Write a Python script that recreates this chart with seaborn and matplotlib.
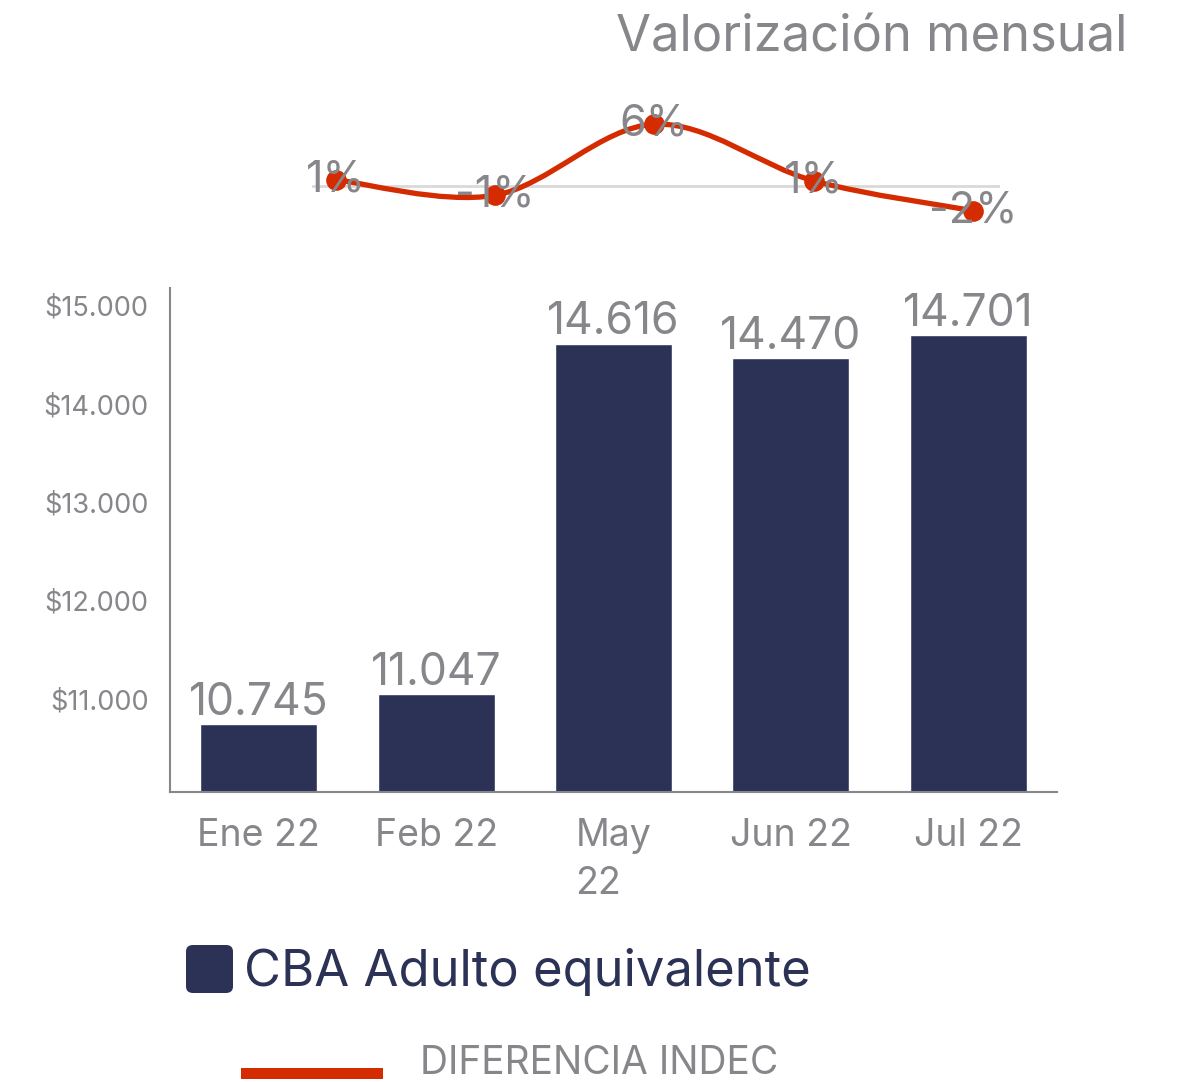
import numpy as np
import matplotlib
matplotlib.use("Agg")
import matplotlib.pyplot as plt
from matplotlib.path import Path
from matplotlib.patches import PathPatch, FancyBboxPatch, Rectangle
import pandas as pd
import seaborn as sns

# data
months = ["Ene 22", "Feb 22", "May\n22", "Jun 22", "Jul 22"]
cba_values = [10745, 11047, 14616, 14470, 14701]
cba_labels = ["10.745", "11.047", "14.616", "14.470", "14.701"]
var_values = [0.6, -0.9, 6.0, 0.5, -2.4]
var_labels = ["1%", "-1%", "6%", "1%", "-2%"]

y_ticks = [11000, 12000, 13000, 14000, 15000]

NAVY = "#2B3256"
RED = "#D52B00"
GRAY = "#86868B"

sns.set_style("white")
plt.rcParams['font.family'] = ['Inter', 'DejaVu Sans']

W, H = 1177, 1082
fig = plt.figure(figsize=(W / 100, H / 100), dpi=100)


def fig_rect(x0, y0, x1, y1):
    """pixel box (top-left origin) -> figure fraction rect"""
    return [x0 / W, 1 - y1 / H, (x1 - x0) / W, (y1 - y0) / H]


# bar chart
ax = fig.add_axes(fig_rect(170, 288, 1057, 792))
df = pd.DataFrame({"mes": months, "valor": cba_values})
sns.barplot(data=df, x="mes", y="valor", color=NAVY, width=0.66,
            saturation=1, ax=ax)
ax.set_xlim(-0.5, 4.5)
ax.set_ylim(10054, 15183)
ax.set_yticks(y_ticks)
ax.set_yticklabels(["$" + f"{v:,}".replace(",", ".") for v in y_ticks])
ax.set_xlabel("")
ax.set_ylabel("")
ax.tick_params(axis="y", length=0, labelsize=19.5, labelcolor=GRAY, pad=15.5)
ax.tick_params(axis="x", length=0, labelsize=27, labelcolor=GRAY, pad=19)
for lbl in ax.get_xticklabels():
    lbl.set_multialignment("left")
    lbl.set_linespacing(1.42)
for side in ["top", "right"]:
    ax.spines[side].set_visible(False)
for side in ["left", "bottom"]:
    ax.spines[side].set_color(GRAY)
    ax.spines[side].set_linewidth(1.5)
for i, (v, t) in enumerate(zip(cba_values, cba_labels)):
    ax.text(i, v + 5, t, ha="center", va="bottom", fontsize=32, color=GRAY)

# monthly variation line
ax2 = fig.add_axes(fig_rect(312, 108.75, 1000, 222))
ax2.set_xlim(-0.15, 4.17)
ax2.set_ylim(-3.5, 7.5)
ax2.axhline(0, color="#D9D9D9", lw=2, zorder=1)

# smoothed path through the points (catmull-rom as cubic bezier)
pts = np.column_stack([np.arange(len(var_values)), var_values])
verts = [pts[0]]
codes = [Path.MOVETO]
for i in range(len(pts) - 1):
    p0 = pts[max(i - 1, 0)]
    p1 = pts[i]
    p2 = pts[i + 1]
    p3 = pts[min(i + 2, len(pts) - 1)]
    verts += [p1 + (p2 - p0) / 6, p2 - (p3 - p1) / 6, p2]
    codes += [Path.CURVE4] * 3
ax2.add_patch(PathPatch(Path(verts, codes), fill=False, edgecolor=RED,
                        lw=3.8, capstyle="round", zorder=2))
sns.scatterplot(x=np.arange(len(var_values)), y=var_values, color=RED,
                s=190, edgecolor=RED, zorder=3, ax=ax2, legend=False)
for i, (v, t) in enumerate(zip(var_values, var_labels)):
    ax2.text(i, v, t, ha="center", va="center", fontsize=31, color=GRAY,
             zorder=4)
ax2.axis("off")

# title
fig.text(1127 / W, 1 - 38 / H, "Valorización mensual", ha="right",
         va="center", fontsize=36.5, color=GRAY)

# legend drawn by hand
fig.patches.append(FancyBboxPatch((186 / W, 1 - 993 / H), 47 / W, 48 / H,
                                  boxstyle="round,pad=0,rounding_size=0.006",
                                  transform=fig.transFigure, facecolor=NAVY,
                                  edgecolor="none"))
fig.text(244 / W, 1 - 972 / H, "CBA Adulto equivalente", ha="left",
         va="center", fontsize=36.5, color=NAVY)
fig.patches.append(Rectangle((241 / W, 1 - 1079 / H), 142 / W, 11 / H,
                             transform=fig.transFigure, facecolor=RED,
                             edgecolor="none"))
fig.text(420 / W, 1 - 1063 / H, "DIFERENCIA INDEC", ha="left",
         va="center", fontsize=28, color=GRAY)

fig.savefig("out.png", dpi=100)
